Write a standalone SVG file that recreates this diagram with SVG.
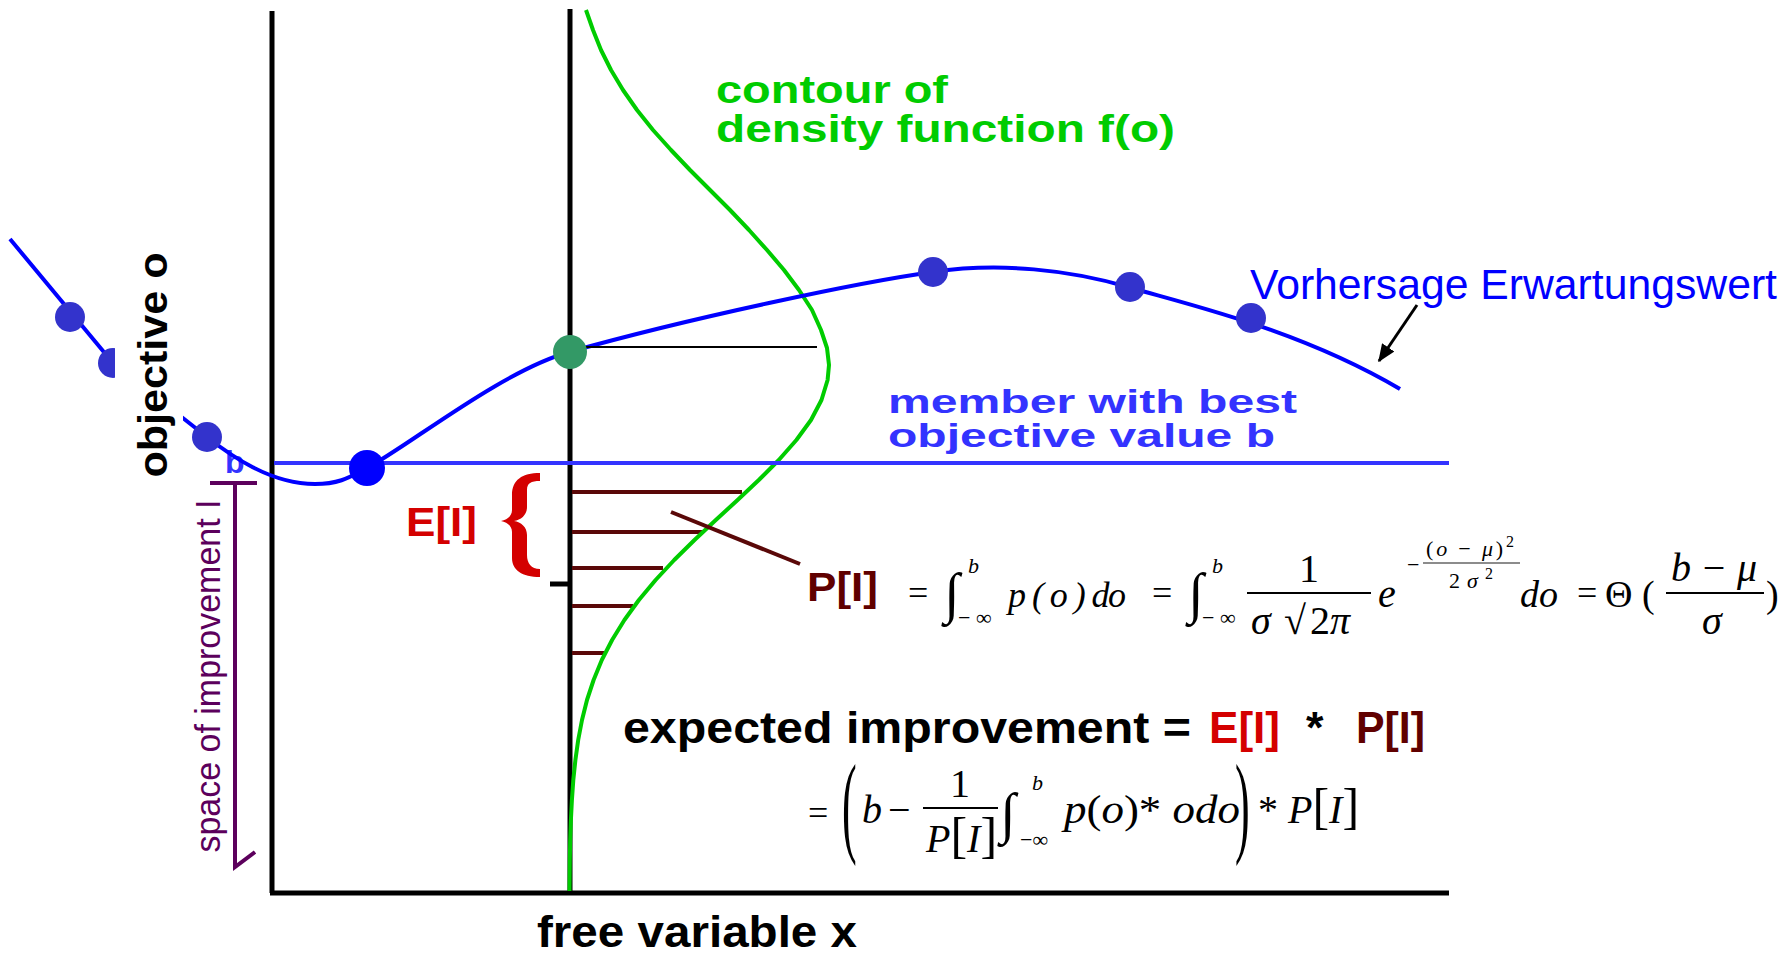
<svg xmlns="http://www.w3.org/2000/svg" width="1792" height="954" viewBox="0 0 1792 954">
<style>
.ax{stroke:#000;stroke-width:5;fill:none}
.blue{stroke:#0000ff;stroke-width:4;fill:none;stroke-linejoin:round}
.dot{fill:#3333cc}
.brn{stroke:#5a0808;stroke-width:4}
.sans{font-family:"Liberation Sans",Arial,sans-serif;font-weight:bold}
.m{font-family:"Liberation Serif","Times New Roman",serif;font-style:italic;font-size:36px;fill:#000}
.u{font-style:normal}
.s{font-size:22px}
.bar{stroke:#000;stroke-width:2}
</style>
<defs>
<marker id="ah" markerWidth="6" markerHeight="5" refX="5.5" refY="2.5" orient="auto">
<path d="M0,0 L6,2.5 L0,5 z" fill="#000"/>
</marker>
</defs>
<rect width="1792" height="954" fill="#fff"/>

<g id="axes">
<line class="ax" x1="272" y1="11" x2="272" y2="893"/>
<line class="ax" x1="270" y1="893" x2="1449" y2="893"/>
<line class="ax" x1="570" y1="9" x2="570" y2="893"/>
<line class="ax" x1="550" y1="584" x2="570" y2="584"/>
</g>

<g id="improvement-bars">
<line class="brn" x1="572" y1="492" x2="742" y2="492"/>
<line class="brn" x1="572" y1="532" x2="702" y2="532"/>
<line class="brn" x1="572" y1="568" x2="663" y2="568"/>
<line class="brn" x1="572" y1="606" x2="633" y2="606"/>
<line class="brn" x1="572" y1="653" x2="604" y2="653"/>
</g>

<g id="density">
<polyline fill="none" stroke="#00cc00" stroke-width="4" stroke-linejoin="round" points="586,10 593,30 601,50 611,70 623,90 637,110 653,130 671,150 690,170 710,190 730,210 749,230 767,250 784,270 799,290 812,310 821,330 827,348 829,365 827.6,380 821.5,400 811.0,420 796.4,440 778.8,460 758.8,480 737.6,500 715.8,520 694.5,540 674.2,560 655.6,580 638.9,600 624.4,620 612.1,640 601.8,660 593.6,680 587.0,700 582.0,720 578.2,740 575.4,760 573.3,780 571.9,800 570.9,820 570.2,840 569.8,860 569.5,891"/>
<text class="sans" x="716" y="103" font-size="38" fill="#00cc00" textLength="232" lengthAdjust="spacingAndGlyphs">contour of</text>
<text class="sans" x="716" y="142" font-size="38" fill="#00cc00" textLength="459" lengthAdjust="spacingAndGlyphs">density function f(o)</text>
</g>

<g id="best-line">
<line x1="274" y1="463" x2="1449" y2="463" stroke="#3333ff" stroke-width="4"/>
<text class="sans" x="888" y="413" font-size="33" fill="#3333ff" textLength="409" lengthAdjust="spacingAndGlyphs">member with best</text>
<text class="sans" x="888" y="447" font-size="33" fill="#3333ff" textLength="387" lengthAdjust="spacingAndGlyphs">objective value b</text>
<text class="sans" x="225" y="473" font-size="32" fill="#3333ff">b</text>
</g>

<g id="prediction">
<path class="blue" d="M10,239 L113,363 L207,437 C230,455 270,484 315,484 C340,484 350,477 367,468 C410,445 500,372 569,352 C690,318 860,282 933,272 C1000,262 1070,270 1128,287 C1190,305 1300,330 1400,389"/>
<line x1="1417" y1="305" x2="1379" y2="361" stroke="#000" stroke-width="3" marker-end="url(#ah)"/>
<text x="1250" y="299" font-family="Liberation Sans, Arial, sans-serif" font-size="42" fill="#0000ff" textLength="527" lengthAdjust="spacingAndGlyphs">Vorhersage Erwartungswert</text>
</g>

<g id="samples">
<circle class="dot" cx="70" cy="317" r="15"/>
<circle class="dot" cx="113" cy="363" r="15"/>
<circle class="dot" cx="207" cy="437" r="15"/>
<circle class="dot" cx="933" cy="272" r="15"/>
<circle class="dot" cx="1130" cy="287" r="15"/>
<circle class="dot" cx="1251" cy="318" r="15"/>
<circle cx="367" cy="468" r="18" fill="#0000ff"/>
<line x1="580" y1="347" x2="817" y2="347" stroke="#000" stroke-width="2"/>
<circle cx="570" cy="352" r="17" fill="#339966"/>
</g>

<g id="y-label">
<rect x="115" y="245" width="68" height="236" fill="#fff"/>
<text class="sans" transform="translate(167,365) rotate(-90)" text-anchor="middle" font-size="40" fill="#000" textLength="225" lengthAdjust="spacingAndGlyphs">objective o</text>
</g>

<g id="x-label">
<text class="sans" x="537" y="947" font-size="44" fill="#000" textLength="320" lengthAdjust="spacingAndGlyphs">free variable x</text>
</g>

<g id="space-of-improvement">
<line x1="210" y1="483" x2="257" y2="483" stroke="#5c005c" stroke-width="4"/>
<polyline points="235,483 235,867 255,852" fill="none" stroke="#5c005c" stroke-width="4"/>
<text transform="translate(220,676) rotate(-90)" text-anchor="middle" font-family="Liberation Sans, Arial, sans-serif" font-size="35" fill="#5c005c" textLength="353" lengthAdjust="spacingAndGlyphs">space of improvement I</text>
</g>

<g id="expectation">
<path d="M540,473 C522,473 512,480 512,495 L512,510 C512,516 507,520 501,521 C507,522 512,526 512,532 L512,558 C512,570 522,577 540,577 L540,569 C531,569 527,563 527,555 L527,535 C527,527 521,522 514,521 C521,520 527,515 527,507 L527,490 C527,483 531,481 540,481 Z" fill="#d40000"/>
<text class="sans" x="406" y="536" font-size="40" fill="#d40000" textLength="71" lengthAdjust="spacingAndGlyphs">E[I]</text>
</g>

<g id="probability">
<line x1="671" y1="512" x2="800" y2="564" stroke="#5a0808" stroke-width="4"/>
<text class="sans" x="807" y="601" font-size="40" fill="#600000" textLength="71" lengthAdjust="spacingAndGlyphs">P[I]</text>
<g class="m">
<text class="u" x="908" y="605">=</text>
<text class="u" x="944" y="612" font-size="56">∫</text>
<text class="s" x="968" y="573">b</text>
<text class="u s" x="958" y="625">− ∞</text>
<text x="1008" y="607" textLength="118" lengthAdjust="spacing">p ( o ) do</text>
<text class="u" x="1152" y="605">=</text>
<text class="u" x="1188" y="612" font-size="56">∫</text>
<text class="s" x="1212" y="573">b</text>
<text class="u s" x="1202" y="625">− ∞</text>
<text class="u" x="1309" y="582" text-anchor="middle" font-size="40">1</text>
<line class="bar" x1="1247" y1="593" x2="1371" y2="593"/>
<text x="1251" y="634" font-size="40">σ</text>
<text class="u" x="1284" y="634" font-size="40">√</text>
<text class="u" x="1310" y="634" font-size="40">2<tspan font-style="italic">π</tspan></text>
<text x="1378" y="607" font-size="40">e</text>
<text class="u s" x="1407" y="572">−</text>
<text x="1426" y="556" font-size="22" textLength="88" lengthAdjust="spacing"><tspan font-style="normal">(</tspan>o <tspan font-style="normal">−</tspan> μ<tspan font-style="normal">)</tspan><tspan font-style="normal" font-size="16" dy="-9">2</tspan></text>
<line x1="1423" y1="563" x2="1520" y2="563" stroke="#666" stroke-width="1.5"/>
<text x="1449" y="588" font-size="22" textLength="44" lengthAdjust="spacing"><tspan font-style="normal">2</tspan>σ<tspan font-style="normal" font-size="16" dy="-9">2</tspan></text>
<text x="1520" y="607" font-size="38">do</text>
<text class="u" x="1577" y="605">=</text>
<text class="u" x="1605" y="607" font-size="38">Θ (</text>
<text x="1671" y="581" font-size="40" textLength="86" lengthAdjust="spacing">b <tspan font-style="normal">−</tspan> μ</text>
<line class="bar" x1="1666" y1="593" x2="1764" y2="593"/>
<text x="1702" y="634" font-size="40">σ</text>
<text class="u" x="1766" y="607" font-size="38">)</text>
</g>
</g>

<g id="expected-improvement">
<text class="sans" x="623" y="743" font-size="45" fill="#000" textLength="568" lengthAdjust="spacingAndGlyphs">expected improvement =</text>
<text class="sans" x="1209" y="743" font-size="45" fill="#d40000" textLength="71" lengthAdjust="spacingAndGlyphs">E[I]</text>
<text class="sans" x="1306" y="743" font-size="45" fill="#000">*</text>
<text class="sans" x="1356" y="743" font-size="45" fill="#600000" textLength="69" lengthAdjust="spacingAndGlyphs">P[I]</text>
<g class="m" font-size="40">
<text class="u" x="808" y="825" font-size="36">=</text>
<text class="u" transform="translate(842,842) scale(1,2.55)" font-size="44">(</text>
<text x="862" y="823" font-size="40">b</text>
<text class="u" x="888" y="823" font-size="40">−</text>
<text class="u" x="960" y="797" text-anchor="middle" font-size="40">1</text>
<line class="bar" x1="923" y1="808" x2="998" y2="808"/>
<text x="926" y="852" font-size="40">P<tspan class="u" font-size="50">[</tspan>I<tspan class="u" font-size="50">]</tspan></text>
<text class="u" x="1000" y="832" font-size="56">∫</text>
<text class="s" x="1032" y="790">b</text>
<text class="u s" x="1020" y="847">−∞</text>
<text x="1064" y="823" font-size="40" textLength="176" lengthAdjust="spacingAndGlyphs">p<tspan font-style="normal">(</tspan>o<tspan font-style="normal">)</tspan><tspan font-style="normal">*</tspan> odo</text>
<text class="u" transform="translate(1235,842) scale(1,2.55)" font-size="44">)</text>
<text x="1258" y="823" font-size="40"><tspan font-style="normal">*</tspan> P<tspan class="u" font-size="50">[</tspan>I<tspan class="u" font-size="50">]</tspan></text>
</g>
</g>
</svg>
